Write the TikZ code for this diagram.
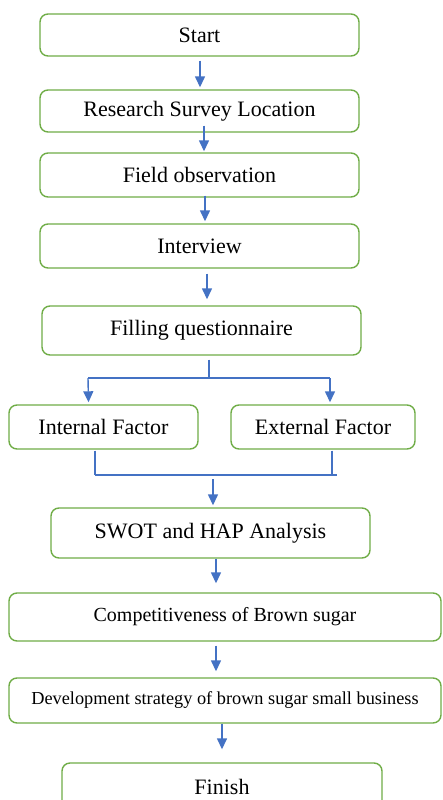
\documentclass[tikz,border=0pt]{standalone}
\usepackage{fontspec}
\setmainfont{Liberation Serif}
\usetikzlibrary{arrows.meta}
\definecolor{boxgreen}{RGB}{112,173,71}
\definecolor{arrblue}{RGB}{68,114,196}
\begin{document}
\begin{tikzpicture}[x=1pt,y=-1pt,
  box/.style={draw=boxgreen,line width=1.4pt,rounded corners=8pt,fill=white,
    inner sep=0pt,align=center,font=\fontsize{22}{26}\selectfont},
  arr/.style={draw=arrblue,line width=1.4pt,-{Triangle[width=10pt,length=11pt]}},
  ln/.style={draw=arrblue,line width=1.4pt}]
\fill[white] (0,0) rectangle (442,800);
\useasboundingbox (0,0) rectangle (442,800);
\begin{scope}
\clip (0,0) rectangle (442,800);
\node[box,minimum width=319pt,minimum height=42pt] (start) at (199.5,35) {Start};
\node[box,minimum width=319pt,minimum height=42pt] (rsl) at (199.5,111) {Research Survey Location};
\node[box,minimum width=319pt,minimum height=44pt] (field) at (199.5,175) {Field observation};
\node[box,minimum width=319pt,minimum height=44pt] (interview) at (199.5,246) {Interview};
\node[box,minimum width=319pt,minimum height=49pt] (fill) at (201.5,330.5) {Filling questionnaire};
\node[box,minimum width=189pt,minimum height=44pt] (internal) at (103.5,427) {Internal Factor};
\node[box,minimum width=184pt,minimum height=44pt] (external) at (323,427) {External Factor};
\node[box,minimum width=319pt,minimum height=50pt] (swot) at (210.5,533) {SWOT and HAP Analysis};
\node[box,minimum width=432pt,minimum height=48pt,font=\fontsize{20}{24}\selectfont] (comp) at (225,617) {Competitiveness of Brown sugar};
\node[box,minimum width=432pt,minimum height=45pt,font=\fontsize{18.3}{22}\selectfont] (dev) at (225,700.5) {Development strategy of brown sugar small business};
\node[box,minimum width=320pt,minimum height=48pt] (finish) at (222,787) {Finish};

\draw[arr] ([xshift=0.5pt,yshift=-4pt]start.south) -- ([xshift=0.5pt,yshift=2pt]rsl.north);
\draw[arr] ([xshift=4.5pt,yshift=7pt]rsl.south) -- ([xshift=4.5pt,yshift=1pt]field.north);
\draw[arr] ([xshift=5.5pt,yshift=2pt]field.south) -- ([xshift=5.5pt,yshift=2pt]interview.north);
\draw[arr] ([xshift=7.5pt,yshift=-5pt]interview.south) -- ([xshift=5.5pt,yshift=6pt]fill.north);

\coordinate (bm) at (209,378);
\coordinate (bl) at (88,378);
\coordinate (br) at (330,378);
\draw[ln] ([xshift=7.5pt,yshift=-4pt]fill.south) -- (bm);
\draw[ln] (bl) -- (br);
\draw[arr] (bl) -- ([xshift=-15pt,yshift=2pt]internal.north);
\draw[arr] (br) -- ([xshift=7pt,yshift=2pt]external.north);

\coordinate (ml) at (95,475);
\coordinate (mr) at (332,475);
\coordinate (me) at (337,475);
\coordinate (ms) at (213,479);
\draw[ln] ([xshift=-8.5pt,yshift=-1pt]internal.south) -- (ml);
\draw[ln] ([xshift=9pt,yshift=-1pt]external.south) -- (mr);
\draw[ln] (ml) -- (me);
\draw[arr] (ms) -- ([xshift=2.5pt,yshift=2pt]swot.north);

\draw[arr] ([xshift=5.5pt,yshift=0pt]swot.south) -- ([xshift=-9pt,yshift=9pt]comp.north);
\draw[arr] ([xshift=-9pt,yshift=-4pt]comp.south) -- ([xshift=-9pt,yshift=6pt]dev.north);
\draw[arr] ([xshift=-3pt,yshift=0pt]dev.south) -- ([xshift=0pt,yshift=13pt]finish.north);
\end{scope}
\end{tikzpicture}
\end{document}
